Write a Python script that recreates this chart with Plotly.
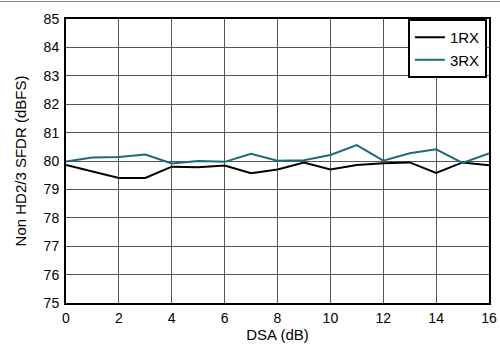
import plotly.graph_objects as go

dsa = list(range(17))
rx1 = [79.86, 79.63, 79.40, 79.40, 79.80, 79.78, 79.84, 79.57, 79.70, 79.95, 79.70, 79.86, 79.92, 79.95, 79.58, 79.95, 79.85]
rx3 = [79.98, 80.12, 80.14, 80.23, 79.91, 80.00, 79.97, 80.25, 80.01, 80.03, 80.21, 80.56, 80.01, 80.27, 80.41, 79.93, 80.27]

x_ticks = list(range(0, 17, 2))
y_ticks = list(range(75, 86))

fig = go.Figure()
fig.add_trace(go.Scatter(x=dsa, y=rx1, mode="lines", name="1RX",
                         line=dict(color="#000000", width=2)))
fig.add_trace(go.Scatter(x=dsa, y=rx3, mode="lines", name="3RX",
                         line=dict(color="#1f6a7a", width=2)))

fam = "Arial, Liberation Sans, sans-serif"
tick_font = dict(family=fam, size=14, color="#000000")
title_font = dict(family=fam, size=15, color="#000000")

fig.update_layout(
    width=500, height=346,
    margin=dict(l=66, r=11, t=19, b=43),
    paper_bgcolor="white", plot_bgcolor="white",
    font=tick_font,
    showlegend=True,
    legend=dict(x=0.995, y=1.0, xanchor="right", yanchor="top",
                bordercolor="#000000", borderwidth=2, bgcolor="white",
                font=title_font, tracegroupgap=0, itemwidth=30),
    xaxis=dict(range=[0, 16], tickvals=x_ticks, showgrid=True,
               gridcolor="#555555", gridwidth=1, zeroline=False,
               showline=True, linecolor="#000000", linewidth=2, mirror=True,
               ticks="", automargin=False, ticklabelstandoff=1,
               title=dict(text="DSA (dB)", standoff=4, font=title_font),
               tickfont=tick_font),
    yaxis=dict(range=[75, 85], tickvals=y_ticks, showgrid=True,
               gridcolor="#555555", gridwidth=1, zeroline=False,
               showline=True, linecolor="#000000", linewidth=2, mirror=True,
               ticks="", automargin=False, ticklabelstandoff=2,
               title=dict(text="Non HD2/3 SFDR (dBFS)", standoff=13, font=title_font),
               tickfont=tick_font),
)

fig.add_shape(type="line", xref="paper", yref="paper",
              x0=-66/423, x1=(500-66)/423, y0=1 + 17.5/284, y1=1 + 17.5/284,
              line=dict(color="#888888", width=1))

fig.write_html("out.html", config={"displayModeBar": False},
               post_script="document.body.style.margin='0';document.body.style.overflow='hidden';")
